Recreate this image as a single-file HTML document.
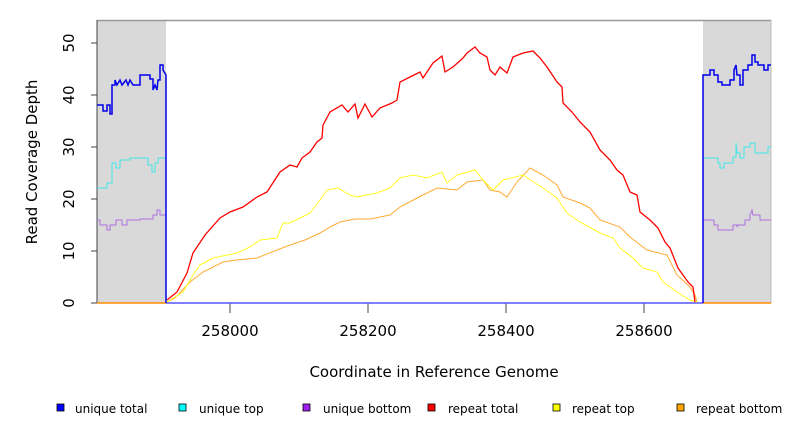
<!DOCTYPE html>
<html><head><meta charset="utf-8"><style>
body{margin:0;background:#fff;}
svg text{font-family:"DejaVu Sans","Liberation Sans",sans-serif;}
</style></head><body>
<svg width="792" height="432" viewBox="0 0 792 432" xmlns="http://www.w3.org/2000/svg">
<rect x="97" y="20" width="69" height="283" fill="#d9d9d9"/>
<rect x="703" y="20" width="68" height="283" fill="#d9d9d9"/>
<line x1="97" y1="20.5" x2="771" y2="20.5" stroke="#999" stroke-width="1.5"/>
<line x1="771" y1="20" x2="771" y2="303" stroke="#bbb"/>
<g stroke="#444" stroke-width="1">
<line x1="97" y1="20" x2="97" y2="303"/>
<line x1="91" y1="303" x2="97" y2="303"/><line x1="91" y1="251" x2="97" y2="251"/>
<line x1="91" y1="199" x2="97" y2="199"/><line x1="91" y1="147" x2="97" y2="147"/>
<line x1="91" y1="95" x2="97" y2="95"/><line x1="91" y1="43" x2="97" y2="43"/>
<line x1="230" y1="303" x2="230" y2="313"/><line x1="368" y1="303" x2="368" y2="313"/>
<line x1="506" y1="303" x2="506" y2="313"/><line x1="644" y1="303" x2="644" y2="313"/>
</g>
<g font-size="15" fill="#000" text-anchor="middle">
<text transform="translate(74,303) rotate(-90)">0</text>
<text transform="translate(74,251) rotate(-90)">10</text>
<text transform="translate(74,199) rotate(-90)">20</text>
<text transform="translate(74,147) rotate(-90)">30</text>
<text transform="translate(74,95) rotate(-90)">40</text>
<text transform="translate(74,43) rotate(-90)">50</text>
<text x="230" y="336">258000</text><text x="368" y="336">258200</text>
<text x="506" y="336">258400</text><text x="644" y="336">258600</text>
<text x="434" y="377">Coordinate in Reference Genome</text>
<text transform="translate(37,162) rotate(-90)">Read Coverage Depth</text>
</g>
<line x1="97" y1="303" x2="166" y2="303" stroke="#ff8c00" stroke-width="1.5"/>
<line x1="703" y1="303" x2="771" y2="303" stroke="#ff8c00" stroke-width="1.5"/>
<line x1="166" y1="303" x2="703" y2="303" stroke="#5555ff" stroke-width="1.5"/>
<g fill="none" stroke-width="1" stroke-linejoin="miter">
<polyline stroke="#b070e0" points="97,220 100,220 100,225 103,225 103,225 107,225 107,230 110,230 110,225 116,225 116,220 122,220 122,225 127,225 127,220 140,220 140,219 153,219 153,215 157,215 157,210 160,210 160,215 166,215 166,303"/>
<polyline stroke="#40e8e8" points="97,188 107,188 107,183 112,183 112,163 116,163 116,168 120,168 120,160 130,160 130,158 148,158 148,165 152,165 152,172 155,172 155,163 158,163 158,158 166,158 166,303"/>
<polyline stroke="#0000ee" stroke-width="1.5" points="97,105 103,105 103,111 107,111 107,105 110,105 110,114 112,114 112,85 115,85 115,80 117,85 120,80 122,85 126,80 128,85 130,80 133,85 140,85 140,75 150,75 150,79 153,79 153,90 155,85 157,90 158,80 160,80 160,65 163,65 163,70 166,75 166,303"/>
<polyline stroke="#b070e0" points="703,303 703,220 714,220 714,225 718,225 718,230 733,230 733,225 737,225 737,227 738,225 745,225 745,220 750,220 750,215 752,210 753,215 760,215 760,220 771,220"/>
<polyline stroke="#40e8e8" points="703,303 703,158 718,158 718,163 720,163 720,168 724,168 724,163 733,163 733,157 736,157 736,143 737,153 740,153 740,158 744,158 744,147 750,147 750,143 755,143 755,153 768,153 768,147 771,147"/>
<polyline stroke="#0000ee" stroke-width="1.5" points="703,303 703,75 710,75 710,70 714,70 714,75 718,75 718,82 722,82 722,85 730,85 730,80 734,80 734,70 736,65 737,75 740,75 740,85 743,85 743,70 748,70 748,65 752,65 752,55 755,55 755,62 758,62 758,65 764,65 764,70 768,70 768,65 771,65"/>
<polyline stroke="#ffaa33" points="167,302 175,298 190,282 203,272 223,262 237,260 257,258 277,250 290,245 305,240 320,233 332,226 340,222 355,219 370,219 390,215 400,207 417,198 437,188 457,190 467,182 483,180 490,190 500,192 507,197 517,182 530,168 543,175 557,185 563,197 580,203 590,208 600,220 620,227 630,237 647,250 667,255 677,275 690,287 695,295 697,302"/>
<polyline stroke="#ffff22" points="167,302 183,292 193,275 200,265 213,258 237,253 250,247 260,240 277,238 283,223 290,223 300,218 310,213 320,200 327,190 338,188 350,195 357,197 377,193 390,188 400,178 413,175 427,178 442,172 447,183 457,175 475,170 483,180 493,190 503,180 523,175 543,188 557,198 567,213 580,222 600,233 613,238 620,248 633,258 643,268 657,272 663,282 677,292 690,300 697,302"/>
<polyline stroke="#ff0000" stroke-width="1.3" points="167,300 177,292 187,273 193,253 205,235 220,218 230,212 243,207 257,197 267,192 280,172 290,165 297,167 302,158 310,152 317,142 322,138 323,125 330,112 342,105 348,112 355,104 358,118 365,104 372,117 380,108 392,103 397,100 400,82 410,77 420,72 423,78 433,63 442,56 445,72 453,67 463,58 467,53 475,47 480,53 487,57 490,70 495,75 500,67 507,73 513,57 523,53 533,51 540,58 547,67 557,82 562,87 563,103 572,112 580,122 590,132 600,150 610,160 617,170 623,175 630,192 637,195 640,212 650,220 658,228 665,242 670,248 678,268 688,282 693,287 695,302"/>
</g>
<g stroke="#000" stroke-width="0.8">
<rect x="57" y="404" width="7" height="7" fill="#0000ff"/>
<rect x="179" y="404" width="7" height="7" fill="#00ffff"/>
<rect x="303" y="404" width="7" height="7" fill="#a020f0"/>
<rect x="428" y="404" width="7" height="7" fill="#ff0000"/>
<rect x="553" y="404" width="7" height="7" fill="#ffff00"/>
<rect x="677" y="404" width="7" height="7" fill="#ffa500"/>
</g>
<g font-size="12" fill="#000">
<text x="75" y="413">unique total</text>
<text x="199" y="413">unique top</text>
<text x="323" y="413">unique bottom</text>
<text x="448" y="413">repeat total</text>
<text x="572" y="413">repeat top</text>
<text x="696" y="413">repeat bottom</text>
</g>
</svg>
</body></html>
